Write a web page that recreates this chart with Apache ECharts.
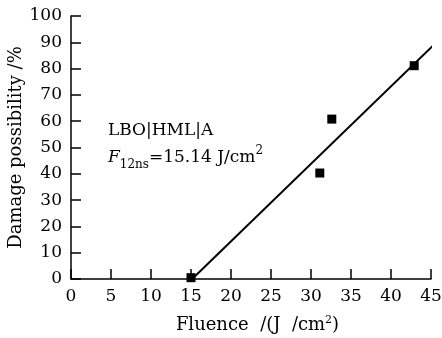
<!DOCTYPE html>
<html><head><meta charset="utf-8">
<script src="https://cdn.jsdelivr.net/npm/echarts@6/dist/echarts.min.js"></script>
<style>html,body{margin:0;padding:0;background:#fff}#c{width:442px;height:338px}</style>
</head><body><div id="c"></div>
<script>
const fluence = [15.0, 31.1, 32.6, 42.9];
const damage = [0.5, 40.3, 60.8, 81.1];
const fitX = [15.14, 45.75];
const fitY = [0, 90.2];
const xTicks = [0, 5, 10, 15, 20, 25, 30, 35, 40, 45];
const yTicks = [0, 10, 20, 30, 40, 50, 60, 70, 80, 90, 100];

const FONT = 'DejaVu Serif';
const chart = echarts.init(document.getElementById('c'));
const axisCommon = {
  axisLine: {show: true, lineStyle: {color: '#000', width: 1.5}},
  axisTick: {show: true, inside: true, length: 10, lineStyle: {color: '#000', width: 1.5}},
  splitLine: {show: false},
  axisLabel: {color: '#000', fontFamily: FONT, fontSize: 17, margin: 9}
};
chart.setOption({
  animation: false,
  backgroundColor: '#fff',
  grid: {left: 71, right: 11, top: 16, bottom: 59, containLabel: false, outerBoundsMode: 'none'},
  xAxis: Object.assign({}, axisCommon, {
    type: 'value', min: xTicks[0], max: xTicks[xTicks.length - 1], interval: 5,
    name: 'Fluence  /(J  /cm{sup|2})', nameLocation: 'middle', nameGap: 36, nameMoveOverlap: false,
    nameTextStyle: {color: '#000', fontFamily: FONT, fontSize: 18, lineHeight: 20, padding: [0, 0, 0, 13],
      rich: {sup: {fontSize: 11, fontFamily: FONT, color: '#000', verticalAlign: 'top', lineHeight: 14}}}
  }),
  yAxis: Object.assign({}, axisCommon, {
    type: 'value', min: yTicks[0], max: yTicks[yTicks.length - 1], interval: 10,
    name: 'Damage possibility /%', nameLocation: 'middle', nameGap: 46, nameMoveOverlap: false,
    nameTextStyle: {color: '#000', fontFamily: FONT, fontSize: 18}
  }),
  series: [
    {type: 'line', data: fitX.map((x, i) => [x, fitY[i]]), symbol: 'none', clip: false,
     lineStyle: {color: '#000', width: 2}, z: 2},
    {type: 'scatter', data: fluence.map((x, i) => [x, damage[i]]), symbol: 'rect', symbolSize: 9,
     itemStyle: {color: '#000', opacity: 1}, clip: false, z: 3}
  ],
  graphic: [
    {type: 'text', left: 108, top: 122, style: {text: 'LBO|HML|A', font: '17px "DejaVu Serif"', fill: '#000'}},
    {type: 'text', left: 108, top: 145, style: {
      text: '{i|F}{sub|12ns}=15.14 J/cm{sup|2}', fill: '#000',
      font: '17px "DejaVu Serif"', lineHeight: 26,
      rich: {
        i: {fontStyle: 'italic', fontFamily: FONT, fontSize: 17, lineHeight: 26},
        sub: {fontFamily: FONT, fontSize: 12, verticalAlign: 'bottom', lineHeight: 17},
        sup: {fontFamily: FONT, fontSize: 12, verticalAlign: 'top', lineHeight: 15}
      }}}
  ]
});
</script></body></html>
